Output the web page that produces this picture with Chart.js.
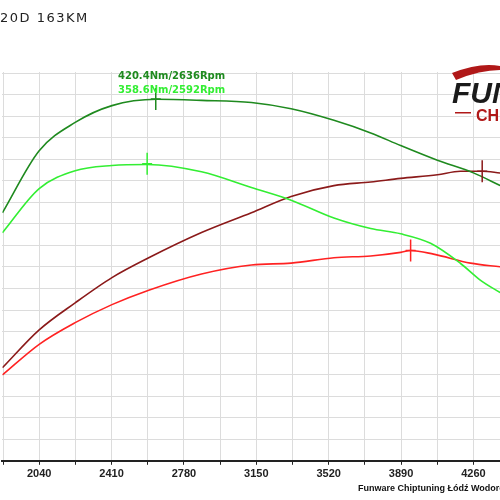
<!DOCTYPE html>
<html>
<head>
<meta charset="utf-8">
<script src="https://cdn.jsdelivr.net/npm/chart.js@4"></script>
<style>
  body { margin: 0; background: #fff; }
  #wrap { position: relative; width: 500px; height: 500px; overflow: hidden; }
  canvas { position: absolute; left: 0; top: 0; }
</style>
</head>
<body>
<div id="wrap"><canvas id="dyno" width="500" height="500"></canvas></div>
<script>
// rpm points
const rpmA = [1852, 2040, 2224, 2412, 2641, 2870, 3125, 3328, 3547, 3735, 3888, 4076, 4260, 4397];
const torqueTuned = [312, 371, 398, 414, 420, 419, 417, 411, 400, 388, 376, 362, 350, 338];
const rpmB = [1852, 2040, 2224, 2412, 2592, 2870, 3125, 3328, 3547, 3735, 3888, 4041, 4193, 4295, 4397];
const torqueStock = [293, 335, 352, 357, 358, 351, 336, 324, 307, 297, 292, 283, 264, 248, 236];
const rpmC = [1852, 2040, 2224, 2412, 2600, 2870, 3125, 3328, 3547, 3735, 3888, 4076, 4193, 4305, 4397];
const powerTuned = [96, 117, 132, 146, 157, 171, 182, 191, 197, 199, 201, 203, 205, 205, 204];
const rpmD = [1852, 2040, 2224, 2412, 2600, 2870, 3125, 3328, 3547, 3735, 3888, 3939, 4056, 4245, 4397];
const powerStock = [92, 109, 121, 131, 139, 148, 153, 154, 157, 158, 160, 161, 159, 154, 152];
const xLabels = [2040, 2410, 2780, 3150, 3520, 3890, 4260];
const peaks = [
  { rpm: 2636, val: 420.4, axis: 'y', color: '#1f8a1f' },
  { rpm: 2592, val: 358.6, axis: 'y', color: '#33ee33' },
  { rpm: 4305, val: 205, axis: 'y2', color: '#8b1a1a' },
  { rpm: 3939, val: 161, axis: 'y2', color: '#ff2222' }
];

const toXY = (xs, ys) => xs.map((x, i) => ({ x, y: ys[i] }));

const extras = {
  id: 'extras',
  afterDatasetsDraw(chart) {
    const c = chart.ctx;
    const sx = chart.scales.x;
    c.save();
    c.lineWidth = 1.5;
    peaks.forEach(p => {
      const px = sx.getPixelForValue(p.rpm);
      const py = chart.scales[p.axis].getPixelForValue(p.val);
      c.strokeStyle = p.color;
      c.beginPath();
      c.moveTo(px, py - 11); c.lineTo(px, py + 11);
      c.moveTo(px - 5, py); c.lineTo(px + 5, py);
      c.stroke();
    });
    c.font = 'bold 10px "DejaVu Sans"';
    c.fillStyle = '#1f8a1f';
    c.fillText('420.4Nm/2636Rpm', 118, 79);
    c.fillStyle = '#33ee33';
    c.fillText('358.6Nm/2592Rpm', 118, 93);
    c.font = '13px "DejaVu Sans"';
    c.fillStyle = '#222';
    c.letterSpacing = '1.5px';
    c.fillText('20D 163KM', 0, 22);
    c.letterSpacing = '0px';
    c.font = 'italic bold 30px "Liberation Sans"';
    c.fillStyle = '#1a1a1a';
    c.fillText('FUNWARE', 452, 103);
    c.fillStyle = '#b01818';
    c.font = 'bold 16px "Liberation Sans"';
    c.fillText('CHIP', 476, 121);
    c.fillRect(455, 112, 16, 1.5);
    c.beginPath();
    c.moveTo(452, 73); c.quadraticCurveTo(480, 62, 500, 66); c.lineTo(500, 70);
    c.quadraticCurveTo(480, 70, 456, 80); c.closePath(); c.fill();
    c.font = 'bold 9px "Liberation Sans"';
    c.fillStyle = '#111';
    c.fillText('Funware Chiptuning Łódź Wodorowa', 358, 491);
    c.restore();
  }
};

const line = (data, color, axis) => ({
  data, borderColor: color, borderWidth: 1.6, pointRadius: 0,
  cubicInterpolationMode: 'monotone', yAxisID: axis, fill: false
});

new Chart(document.getElementById('dyno'), {
  type: 'line',
  data: {
    datasets: [
      line(toXY(rpmA, torqueTuned), '#1f8a1f', 'y'),
      line(toXY(rpmB, torqueStock), '#33ee33', 'y'),
      line(toXY(rpmC, powerTuned), '#8b1a1a', 'y2'),
      line(toXY(rpmD, powerStock), '#ff2222', 'y2')
    ]
  },
  options: {
    responsive: false,
    animation: false,
    layout: { padding: { top: 72, bottom: 16, left: 0, right: 0 } },
    plugins: { legend: { display: false }, tooltip: { enabled: false } },
    scales: {
      x: {
        type: 'linear', min: 1852, max: 4396,
        afterBuildTicks: s => { const t = []; for (let v = 1855; v <= 4400; v += 185) t.push({ value: v }); s.ticks = t; },
        ticks: {
          autoSkip: false, maxRotation: 0, color: '#222',
          font: { family: 'Liberation Sans', weight: 'bold', size: 11 },
          callback: v => xLabels.some(l => Math.abs(l - v) < 3) ? String(Math.round(v / 10) * 10) : ''
        },
        grid: { color: '#dcdcdc', tickLength: 4, tickColor: '#222' },
        border: { color: '#222', width: 2 }
      },
      y: {
        display: true, min: 76, max: 446,
        afterBuildTicks: s => { const t = []; for (let v = 76; v <= 446; v += 20.5) t.push({ value: v }); s.ticks = t; },
        ticks: { display: false },
        grid: { color: '#dcdcdc', drawTicks: false },
        border: { display: false }
      },
      y2: {
        display: false, min: 44.4, max: 260
      }
    }
  },
  plugins: [extras]
});
</script>
</body>
</html>
